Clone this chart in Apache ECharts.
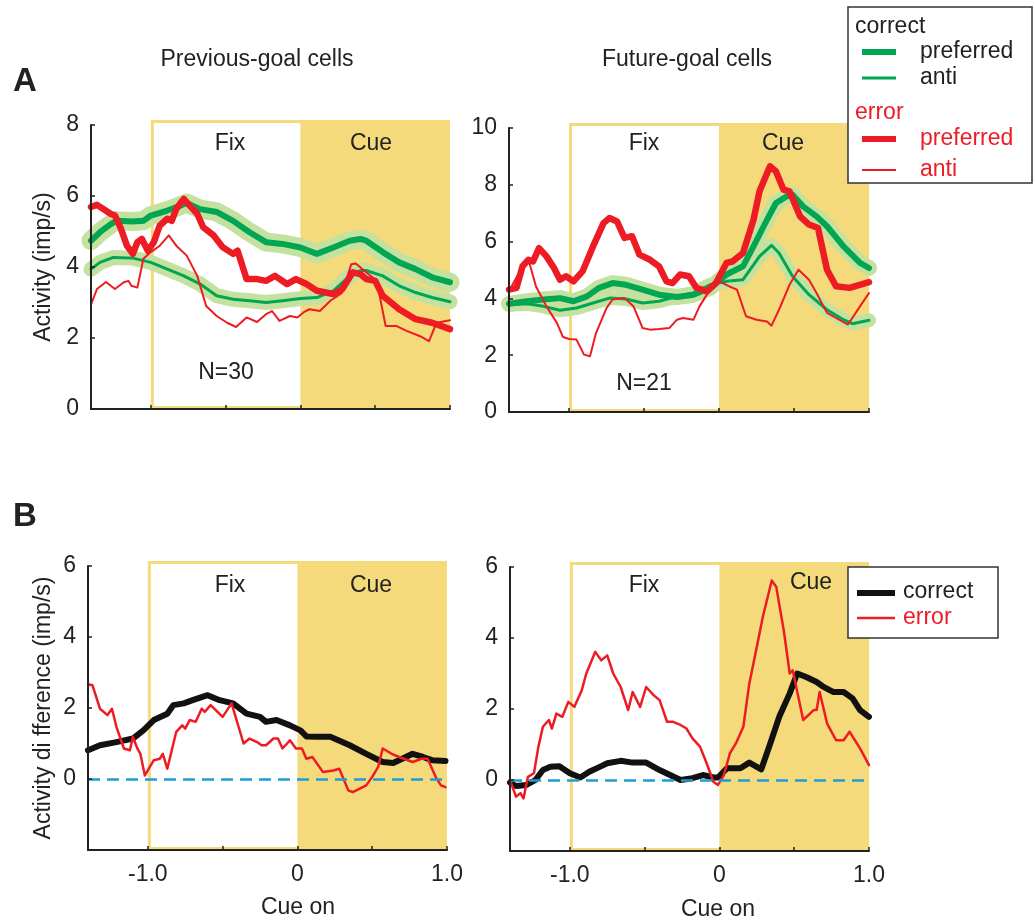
<!DOCTYPE html>
<html><head><meta charset="utf-8">
<script src="https://cdn.jsdelivr.net/npm/echarts@6/dist/echarts.min.js"></script>
<style>html,body{margin:0;padding:0;background:#fff}#c{width:1035px;height:924px}</style>
</head><body><div id="c"></div>
<script>
// ---------- tick values ----------
const xTickValues = [-1, -0.5, 0, 0.5, 1];
const xLabelValues = [-1, 0, 1];
const yTicksPrevA = [0, 2, 4, 6, 8];
const yTicksFutA = [0, 2, 4, 6, 8, 10];
const yTicksB = [0, 2, 4, 6];

// ---------- epochs: [fixStart, cueStart, cueEnd, yBottom, yTop] ----------
const epochsPrevA = [[-1, 0, 1, 0, 8]];
const epochsFutA = [[-1, 0, 1, 0, 10]];
const epochsB = [[-1, 0, 1, -2, 6]];

// ---------- A: previous-goal cells ----------
const prevCorrectPreferred = [[-1.40,4.74],[-1.34,4.98],[-1.27,5.20],[-1.23,5.30],[-1.12,5.28],[-1.05,5.30],[-1.00,5.45],[-0.89,5.59],[-0.80,5.73],[-0.76,5.80],[-0.67,5.63],[-0.56,5.55],[-0.45,5.30],[-0.34,4.98],[-0.23,4.70],[-0.12,4.65],[0.00,4.55],[0.11,4.37],[0.22,4.55],[0.33,4.74],[0.40,4.79],[0.44,4.74],[0.55,4.42],[0.66,4.13],[0.77,3.94],[0.88,3.71],[1.00,3.57]];
const prevCorrectAnti = [[-1.40,3.94],[-1.34,4.13],[-1.25,4.27],[-1.12,4.25],[-1.00,4.13],[-0.89,3.94],[-0.78,3.75],[-0.67,3.52],[-0.56,3.19],[-0.45,3.09],[-0.34,3.05],[-0.23,3.00],[-0.12,3.05],[0.00,3.11],[0.11,3.14],[0.22,3.33],[0.33,3.75],[0.40,3.90],[0.44,3.90],[0.55,3.75],[0.66,3.47],[0.77,3.28],[0.88,3.14],[1.00,3.02]];
const prevErrorPreferred = [[-1.40,5.69],[-1.36,5.75],[-1.32,5.64],[-1.27,5.50],[-1.24,5.45],[-1.20,5.08],[-1.16,4.60],[-1.12,4.37],[-1.09,4.70],[-1.06,4.79],[-1.02,4.46],[-0.98,4.70],[-0.94,5.17],[-0.89,5.36],[-0.86,5.30],[-0.83,5.64],[-0.78,5.92],[-0.74,5.73],[-0.69,5.50],[-0.65,5.12],[-0.58,4.89],[-0.52,4.56],[-0.45,4.37],[-0.42,4.46],[-0.36,3.66],[-0.29,3.66],[-0.23,3.61],[-0.17,3.75],[-0.09,3.52],[-0.03,3.66],[0.04,3.52],[0.11,3.33],[0.22,3.24],[0.28,3.38],[0.35,3.85],[0.40,3.80],[0.44,3.66],[0.50,3.61],[0.55,3.19],[0.66,2.81],[0.77,2.53],[0.88,2.43],[1.00,2.25]];
const prevErrorAnti = [[-1.40,2.95],[-1.36,3.38],[-1.30,3.58],[-1.24,3.38],[-1.18,3.57],[-1.15,3.61],[-1.13,3.47],[-1.09,3.42],[-1.05,4.23],[-1.00,4.42],[-0.94,4.60],[-0.88,4.89],[-0.83,4.60],[-0.76,4.32],[-0.69,3.75],[-0.63,2.90],[-0.56,2.62],[-0.49,2.43],[-0.43,2.31],[-0.36,2.58],[-0.29,2.45],[-0.23,2.67],[-0.19,2.76],[-0.14,2.48],[-0.07,2.62],[-0.02,2.58],[0.02,2.72],[0.06,2.81],[0.13,2.76],[0.20,3.05],[0.28,3.28],[0.34,4.08],[0.37,4.10],[0.44,3.85],[0.51,3.61],[0.57,2.34],[0.64,2.34],[0.71,2.20],[0.80,2.05],[0.86,1.91],[0.91,2.43],[1.00,2.50]];

// ---------- A: future-goal cells ----------
const futCorrectPreferred = [[-1.40,3.81],[-1.28,3.90],[-1.17,3.96],[-1.06,4.01],[-0.97,3.90],[-0.88,4.07],[-0.80,4.37],[-0.71,4.54],[-0.62,4.48],[-0.51,4.31],[-0.40,4.13],[-0.28,4.05],[-0.17,4.13],[-0.06,4.37],[0.05,4.84],[0.16,5.13],[0.23,5.83],[0.32,6.77],[0.38,7.36],[0.45,7.59],[0.49,7.65],[0.56,7.24],[0.65,6.89],[0.72,6.54],[0.83,5.83],[0.94,5.25],[1.00,5.07]];
const futCorrectAnti = [[-1.40,3.78],[-1.28,3.81],[-1.17,3.72],[-1.06,3.58],[-0.95,3.66],[-0.84,3.84],[-0.73,4.01],[-0.62,3.98],[-0.51,3.84],[-0.40,3.90],[-0.28,4.07],[-0.17,4.19],[-0.06,4.48],[0.05,4.60],[0.16,4.66],[0.27,5.48],[0.35,5.87],[0.40,5.60],[0.49,4.78],[0.60,4.13],[0.72,3.60],[0.83,3.25],[0.89,3.11],[1.00,3.23]];
const futErrorPreferred = [[-1.40,4.31],[-1.35,4.37],[-1.31,5.13],[-1.27,5.36],[-1.24,5.30],[-1.20,5.77],[-1.15,5.48],[-1.10,5.07],[-1.06,4.66],[-1.02,4.78],[-0.97,4.60],[-0.91,4.95],[-0.84,5.83],[-0.77,6.65],[-0.73,6.83],[-0.68,6.71],[-0.63,6.13],[-0.58,6.19],[-0.53,5.54],[-0.46,5.36],[-0.40,5.13],[-0.35,4.60],[-0.31,4.54],[-0.26,4.84],[-0.20,4.78],[-0.15,4.37],[-0.08,4.25],[-0.02,4.54],[0.05,5.25],[0.09,5.30],[0.16,5.60],[0.23,6.77],[0.27,7.77],[0.34,8.65],[0.38,8.47],[0.43,7.83],[0.47,7.77],[0.54,6.89],[0.60,6.60],[0.66,6.48],[0.72,5.01],[0.78,4.43],[0.87,4.37],[1.00,4.57]];
const futErrorAnti = [[-1.40,4.25],[-1.31,5.13],[-1.27,5.36],[-1.22,4.42],[-1.15,3.72],[-1.08,3.13],[-1.04,2.64],[-1.00,2.57],[-0.95,2.55],[-0.90,2.02],[-0.86,1.96],[-0.82,2.78],[-0.75,3.66],[-0.71,3.96],[-0.63,4.01],[-0.57,3.72],[-0.51,2.96],[-0.46,2.90],[-0.40,2.92],[-0.33,2.96],[-0.28,3.25],[-0.24,3.31],[-0.17,3.25],[-0.13,3.72],[-0.06,4.31],[0.00,4.60],[0.07,4.42],[0.12,4.31],[0.18,3.37],[0.25,3.25],[0.32,3.19],[0.35,3.04],[0.40,3.60],[0.47,4.48],[0.53,5.01],[0.60,4.66],[0.65,4.19],[0.72,3.49],[0.78,3.31],[0.86,3.08],[0.94,3.72],[1.00,4.19]];

// ---------- B: activity difference ----------
const prevDiffCorrect = [[-1.40,0.81],[-1.32,0.95],[-1.21,1.04],[-1.10,1.14],[-1.03,1.37],[-0.96,1.66],[-0.87,1.84],[-0.83,2.08],[-0.76,2.13],[-0.70,2.22],[-0.60,2.36],[-0.52,2.22],[-0.43,2.13],[-0.34,1.84],[-0.25,1.75],[-0.21,1.61],[-0.14,1.66],[-0.05,1.51],[0.02,1.37],[0.06,1.20],[0.13,1.19],[0.22,1.19],[0.35,0.95],[0.46,0.71],[0.57,0.48],[0.64,0.45],[0.70,0.57],[0.77,0.71],[0.84,0.62],[0.90,0.53],[0.99,0.51]];
const prevDiffError = [[-1.40,2.67],[-1.37,2.64],[-1.32,1.98],[-1.27,1.80],[-1.24,1.98],[-1.21,1.47],[-1.16,0.86],[-1.12,0.81],[-1.10,1.19],[-1.07,0.86],[-1.05,0.71],[-1.02,0.10],[-0.96,0.53],[-0.92,0.57],[-0.90,0.71],[-0.87,0.29],[-0.81,1.33],[-0.77,1.51],[-0.75,1.42],[-0.72,1.66],[-0.68,1.61],[-0.64,1.98],[-0.62,1.89],[-0.58,2.08],[-0.50,1.75],[-0.44,2.13],[-0.36,1.00],[-0.32,1.14],[-0.27,1.04],[-0.24,0.95],[-0.21,0.95],[-0.16,1.14],[-0.13,1.14],[-0.10,0.86],[-0.05,1.09],[-0.01,0.86],[0.03,0.86],[0.06,0.57],[0.10,0.62],[0.17,0.20],[0.24,0.24],[0.28,0.29],[0.34,-0.32],[0.37,-0.37],[0.46,-0.18],[0.50,0.06],[0.54,0.34],[0.57,0.86],[0.63,0.71],[0.68,0.62],[0.77,0.48],[0.83,0.57],[0.87,0.57],[0.93,0.01],[0.96,-0.18],[0.99,-0.23]];
const futDiffCorrect = [[-1.40,-0.07],[-1.36,-0.17],[-1.29,-0.14],[-1.23,0.00],[-1.18,0.28],[-1.13,0.37],[-1.07,0.39],[-1.00,0.19],[-0.93,0.07],[-0.87,0.23],[-0.80,0.37],[-0.75,0.47],[-0.66,0.54],[-0.58,0.49],[-0.49,0.49],[-0.40,0.28],[-0.33,0.14],[-0.26,0.00],[-0.18,0.05],[-0.11,0.14],[-0.04,0.07],[-0.01,0.07],[0.05,0.33],[0.14,0.33],[0.20,0.49],[0.28,0.30],[0.34,1.03],[0.40,1.78],[0.47,2.44],[0.52,3.00],[0.58,2.90],[0.65,2.76],[0.69,2.64],[0.76,2.48],[0.83,2.48],[0.89,2.30],[0.94,1.97],[1.00,1.78]];
const futDiffError = [[-1.40,0.00],[-1.36,-0.47],[-1.33,-0.37],[-1.31,-0.52],[-1.28,0.09],[-1.24,0.19],[-1.21,0.94],[-1.18,1.50],[-1.14,1.69],[-1.12,1.45],[-1.09,1.87],[-1.05,1.78],[-1.01,2.20],[-0.97,2.06],[-0.92,2.53],[-0.89,3.00],[-0.83,3.61],[-0.79,3.37],[-0.75,3.51],[-0.71,3.00],[-0.66,2.62],[-0.61,1.97],[-0.58,2.48],[-0.53,2.06],[-0.49,2.62],[-0.44,2.39],[-0.40,2.25],[-0.35,1.64],[-0.31,1.64],[-0.26,1.55],[-0.22,1.45],[-0.18,1.17],[-0.13,0.94],[-0.09,0.52],[-0.04,-0.05],[-0.01,-0.14],[0.03,0.14],[0.07,0.75],[0.11,1.03],[0.16,1.50],[0.20,2.72],[0.25,3.75],[0.29,4.59],[0.35,5.62],[0.38,5.44],[0.43,4.22],[0.47,3.00],[0.49,3.09],[0.56,1.69],[0.63,1.97],[0.65,1.97],[0.67,2.48],[0.72,1.59],[0.78,1.12],[0.83,1.12],[0.87,1.36],[0.94,0.89],[1.00,0.42]];

// ---------- styling ----------
const FONT = 'Liberation Sans, Arial, Helvetica, sans-serif';
const GREEN = '#00a651', BAND = '#c4e1a0', RED = '#ed1c24', YELLOW = '#f4da7a', BLUE = '#1e9cd7', INK = '#222';
const FS = 23;

function shadeRender(params, api) {
  const tl = api.coord([api.value(0), api.value(4)]);
  const cb = api.coord([api.value(1), api.value(3)]);
  const br = api.coord([api.value(2), api.value(3)]);
  const ext = 5, bw = 3;
  const top = tl[1] - ext;
  return { type: 'group', children: [
    { type: 'rect', shape: { x: tl[0], y: top, width: br[0] - tl[0], height: br[1] - top }, style: { fill: YELLOW } },
    { type: 'rect', shape: { x: tl[0] + bw, y: top + bw, width: cb[0] - tl[0] - bw, height: br[1] - top - 2 * bw }, style: { fill: '#fff' } }
  ]};
}

const grids = [
  { left: 91, top: 125, width: 359, height: 284 },
  { left: 509, top: 128, width: 360, height: 284 },
  { left: 88, top: 566, width: 359, height: 284 },
  { left: 510, top: 567, width: 359, height: 284 }
].map(g => Object.assign({ containLabel: false, outerBoundsMode: 'none' }, g));

function xAx(i, showLabels) {
  return {
    type: 'value', gridIndex: i, min: -1.4, max: 1.0, z: 10,
    axisLine: { show: true, onZero: false, lineStyle: { color: INK, width: 2 } },
    axisTick: { show: true, inside: true, length: 4, customValues: xTickValues, lineStyle: { color: INK, width: 1.5 } },
    axisLabel: { show: showLabels, customValues: xLabelValues, margin: 13, color: INK, fontSize: FS, fontFamily: FONT,
      formatter: v => v === 0 ? '0' : v.toFixed(1) },
    splitLine: { show: false }
  };
}
function yAx(i, min, max, ticks, name, gap) {
  return {
    type: 'value', gridIndex: i, min: min, max: max, z: 10,
    name: name || '', nameLocation: 'middle', nameGap: gap || 30,
    nameTextStyle: { fontSize: FS, color: INK, fontFamily: FONT },
    axisLine: { show: true, onZero: false, lineStyle: { color: INK, width: 2 } },
    axisTick: { show: true, inside: true, length: 4, customValues: ticks, lineStyle: { color: INK, width: 1.5 } },
    axisLabel: { show: true, customValues: ticks, margin: 12, color: INK, fontSize: FS, fontFamily: FONT },
    splitLine: { show: false }
  };
}

function shade(i, data) {
  return { type: 'custom', xAxisIndex: i, yAxisIndex: i, data: data, renderItem: shadeRender,
    encode: { x: [0, 1, 2], y: [3, 4] }, clip: false, silent: true, z: 1 };
}
function ln(i, data, color, width, z, extra) {
  return Object.assign({ type: 'line', xAxisIndex: i, yAxisIndex: i, data: data, symbol: 'none', showSymbol: false,
    silent: true, z: z, lineStyle: { color: color, width: width, join: 'round', cap: 'round' } }, extra || {});
}
const zeroLine = { silent: true, symbol: ['none', 'none'], label: { show: false },
  lineStyle: { color: BLUE, width: 2.5, type: [12, 7] }, data: [{ yAxis: 0 }] };

const series = [
  shade(0, epochsPrevA), shade(1, epochsFutA), shade(2, epochsB), shade(3, epochsB),
  // A left
  ln(0, prevCorrectPreferred, BAND, 19, 2), ln(0, prevCorrectAnti, BAND, 15, 2),
  ln(0, prevCorrectPreferred, GREEN, 6, 3), ln(0, prevCorrectAnti, GREEN, 3, 3),
  ln(0, prevErrorAnti, RED, 2, 4), ln(0, prevErrorPreferred, RED, 6.5, 4),
  // A right
  ln(1, futCorrectPreferred, BAND, 16, 2), ln(1, futCorrectAnti, BAND, 14, 2),
  ln(1, futCorrectPreferred, GREEN, 6, 3), ln(1, futCorrectAnti, GREEN, 3, 3),
  ln(1, futErrorAnti, RED, 2, 4), ln(1, futErrorPreferred, RED, 6.5, 4),
  // B left
  ln(2, [], BLUE, 1, 2, { markLine: zeroLine }),
  ln(2, prevDiffCorrect, '#111', 6, 3), ln(2, prevDiffError, RED, 2.5, 4),
  // B right
  ln(3, [], BLUE, 1, 2, { markLine: zeroLine }),
  ln(3, futDiffCorrect, '#111', 6, 3), ln(3, futDiffError, RED, 2.5, 4)
];

function txt(x, y, s, opt) {
  opt = opt || {};
  return { type: 'text', x: x, y: y, z: 100, silent: true,
    style: { text: s, fill: opt.fill || INK, font: (opt.bold ? 'bold ' : '') + (opt.size || FS) + 'px ' + FONT,
      textAlign: opt.align || 'center', textVerticalAlign: 'middle', align: opt.align || 'center', verticalAlign: 'middle' } };
}
function seg(x1, x2, y, color, w) {
  return { type: 'line', z: 100, silent: true, shape: { x1: x1, y1: y, x2: x2, y2: y }, style: { stroke: color, lineWidth: w } };
}

const graphics = [
  txt(25, 82, 'A', { bold: true, size: 33 }),
  txt(25, 517, 'B', { bold: true, size: 33 }),
  txt(257, 60, 'Previous-goal cells'),
  txt(687, 60, 'Future-goal cells'),
  txt(230, 144, 'Fix'), txt(371, 144, 'Cue'), txt(226, 373, 'N=30'),
  txt(644, 144, 'Fix'), txt(783, 144, 'Cue'), txt(644, 384, 'N=21'),
  txt(230, 586, 'Fix'), txt(371, 586, 'Cue'),
  txt(644, 586, 'Fix'), txt(811, 583, 'Cue'),
  txt(298, 908, 'Cue on'), txt(718, 910, 'Cue on'),
  // legend A
  { type: 'rect', z: 90, silent: true, shape: { x: 848, y: 7, width: 184, height: 176 }, style: { fill: '#fff', stroke: '#333', lineWidth: 1.5 } },
  txt(855, 27, 'correct', { align: 'left' }),
  seg(862, 896, 52, GREEN, 6), txt(920, 52, 'preferred', { align: 'left' }),
  seg(862, 896, 78, GREEN, 3), txt(920, 78, 'anti', { align: 'left' }),
  txt(855, 113, 'error', { align: 'left', fill: RED }),
  seg(862, 896, 139, RED, 6), txt(920, 139, 'preferred', { align: 'left', fill: RED }),
  seg(862, 896, 170, RED, 2), txt(920, 170, 'anti', { align: 'left', fill: RED }),
  // legend B
  { type: 'rect', z: 90, silent: true, shape: { x: 848, y: 567, width: 150, height: 71 }, style: { fill: '#fff', stroke: '#333', lineWidth: 1.5 } },
  seg(857, 895, 593, '#111', 6), txt(903, 592, 'correct', { align: 'left' }),
  seg(857, 895, 618, RED, 2.5), txt(903, 618, 'error', { align: 'left', fill: RED })
];

const chart = echarts.init(document.getElementById('c'), null, { renderer: 'canvas' });
chart.setOption({
  animation: false,
  backgroundColor: '#fff',
  textStyle: { fontFamily: FONT },
  grid: grids,
  xAxis: [xAx(0, false), xAx(1, false), xAx(2, true), xAx(3, true)],
  yAxis: [
    yAx(0, 0, 8, yTicksPrevA, 'Activity (imp/s)', 36),
    yAx(1, 0, 10, yTicksFutA),
    yAx(2, -2, 6, yTicksB, 'Activity di fference (imp/s)', 33),
    yAx(3, -2, 6, yTicksB)
  ],
  series: series,
  graphic: graphics
});
</script></body></html>
